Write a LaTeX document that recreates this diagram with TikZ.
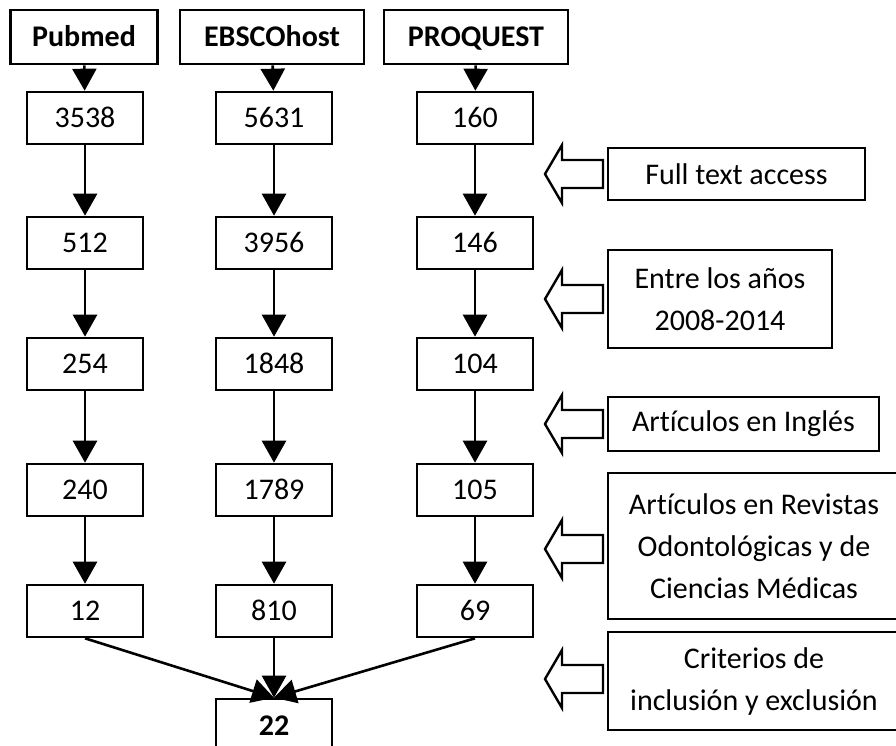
\documentclass[tikz,border=0pt]{standalone}
\usepackage{fontspec}
\setmainfont{Carlito}[Ligatures=NoCommon]
\usetikzlibrary{arrows.meta}
\begin{document}
\begin{tikzpicture}[x=1pt,y=-1pt,
  txt/.style={font=\fontsize{30}{42}\selectfont},
  box/.style={draw, line width=2.6pt, inner sep=0pt, minimum width=116pt, minimum height=52pt, text height=19pt, text depth=0pt, txt},
  hdr/.style={box, minimum height=54pt, font=\fontsize{30}{42}\selectfont\bfseries},
  side/.style={draw, line width=2.6pt, inner sep=0pt, align=center, txt},
  arr/.style={line width=2.6pt, -{Triangle[length=22pt,width=24pt]}},
  blockarrow/.pic={\draw[line width=2.4pt, line join=miter] (-29,0) -- (-12,-29) -- (-12,-14) -- (29,-14) -- (29,14) -- (-12,14) -- (-12,29) -- cycle;}
]
\useasboundingbox (0,0) rectangle (896,746);
% headers
\node[hdr, minimum width=147pt] (h1) at (84,37) {Pubmed};
\node[hdr, minimum width=184pt] (h2) at (272,37) {EBSCOhost};
\node[hdr, minimum width=184pt] (h3) at (476,37) {PROQUEST};
% column 1
\node[box] (a1) at (85,118) {3538};
\node[box] (a2) at (85,243) {512};
\node[box] (a3) at (85,364) {254};
\node[box] (a4) at (85,490) {240};
\node[box] (a5) at (85,611) {12};
% column 2
\node[box] (b1) at (274,118) {5631};
\node[box] (b2) at (274,243) {3956};
\node[box] (b3) at (274,364) {1848};
\node[box] (b4) at (274,490) {1789};
\node[box] (b5) at (274,611) {810};
% column 3
\node[box] (c1) at (475,118) {160};
\node[box] (c2) at (475,243) {146};
\node[box] (c3) at (475,364) {104};
\node[box] (c4) at (475,490) {105};
\node[box] (c5) at (475,611) {69};
% final
\node[box, minimum height=53pt, font=\fontsize{30}{42}\selectfont\bfseries] (fin) at (274,725.5) {22};
% connectors
\draw[arr] (h1) -- (a1);
\draw[arr] (h2) -- (b1);
\draw[arr] (h3) -- (c1);
\foreach \c in {a,b,c}{
  \draw[arr] (\c1) -- (\c2);
  \draw[arr] (\c2) -- (\c3);
  \draw[arr] (\c3) -- (\c4);
  \draw[arr] (\c4) -- (\c5);
}
\draw[arr] (a5.south) -- (fin.north);
\draw[arr] (b5.south) -- (fin.north);
\draw[arr] (c5.south) -- (fin.north);
% side boxes
\node[side, minimum width=257pt, minimum height=52pt] (s1) at (736.5,174) {Full text access};
\node[side, minimum width=224pt, minimum height=98pt] (s2) at (720,299) {Entre los años\\2008-2014};
\node[side, minimum width=271pt, minimum height=54pt] (s3) at (743.5,424) {Artículos en Inglés};
\node[side, minimum width=292pt, minimum height=146pt] (s4) at (754,546) {Artículos en Revistas\\Odontológicas y de\\Ciencias Médicas};
\node[side, minimum width=292pt, minimum height=98pt] (s5) at (754,681) {Criterios de\\inclusión y exclusión};
% block arrows
\pic at (574,174) {blockarrow};
\pic at (574,299) {blockarrow};
\pic at (574,424) {blockarrow};
\pic at (574,549) {blockarrow};
\pic at (574,679) {blockarrow};
\end{tikzpicture}
\end{document}
